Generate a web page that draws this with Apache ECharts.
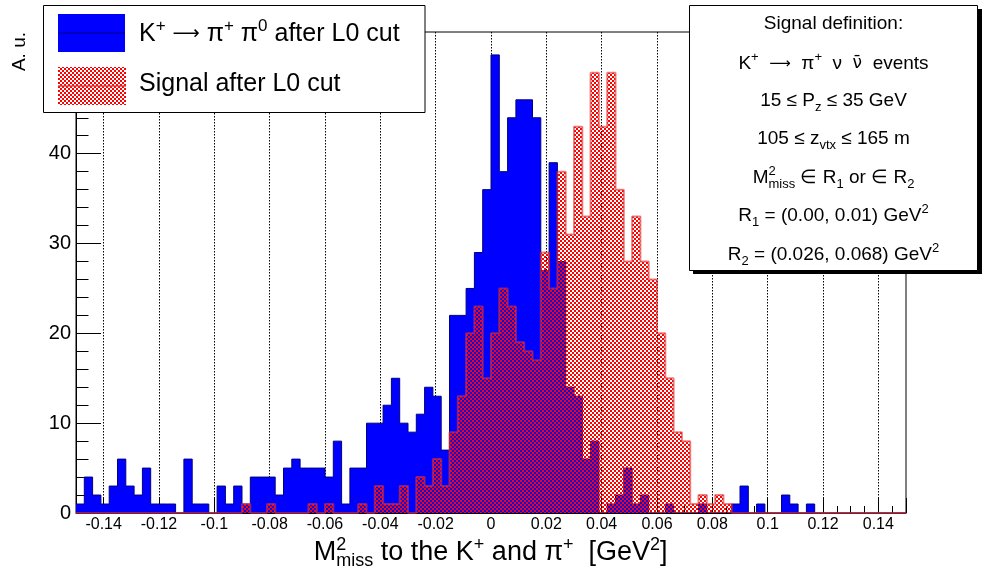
<!DOCTYPE html>
<html>
<head>
<meta charset="utf-8">
<script src="https://cdn.jsdelivr.net/npm/echarts@6/dist/echarts.min.js"></script>
<style>
  html, body { margin: 0; padding: 0; background: #ffffff; }
  #chart { width: 983px; height: 576px; }
</style>
</head>
<body>
<div id="chart"></div>
<script>
// Histogram binning: 100 bins of 0.003 GeV^2 covering [-0.15, 0.15]
const binLow = -0.15;
const binWidth = 0.003;

// Axis tick labels
const xTickLabels = ['-0.14', '-0.12', '-0.1', '-0.08', '-0.06', '-0.04', '-0.02', '0',
                     '0.02', '0.04', '0.06', '0.08', '0.1', '0.12', '0.14'];
const yTickLabels = ['0', '10', '20', '30', '40'];

// K+ -> pi+ pi0 background after the L0 cut (entries per bin)
const kpipi0Counts = [
  1, 4, 2, 1, 3, 6, 3, 2, 5, 1,
  1, 1, 0, 6, 1, 1, 0, 3, 1, 3,
  1, 4, 4, 4, 2, 5, 6, 5, 5, 5,
  4, 8, 1, 5, 5, 10, 10, 12, 15, 10,
  9, 11, 14, 13, 7, 22, 22, 25, 29, 36,
  51, 38, 44, 46, 46, 44, 27, 39, 28, 14,
  13, 6, 8, 0, 1, 2, 5, 1, 2, 0,
  0, 1, 0, 0, 0, 1, 0, 0, 0, 1,
  3, 0, 1, 0, 0, 2, 1, 0, 1, 0,
  0, 0, 0, 0, 0, 0, 0, 0, 0, 0
];

// K+ -> pi+ nu nubar signal after the L0 cut (entries per bin)
const signalCounts = [
  0, 0, 0, 0, 0, 0, 0, 0, 0, 0,
  0, 0, 0, 0, 0, 0, 0, 0, 0, 0,
  1, 0, 0, 1, 0, 0, 0, 0, 1, 0,
  1, 0, 0, 0, 1, 0, 3, 1, 1, 3,
  0, 4, 3, 6, 3, 9, 13, 20, 23, 15,
  20, 25, 23, 19, 18, 17, 29, 25, 38, 31,
  43, 33, 49, 43, 49, 36, 28, 33, 28, 26,
  20, 15, 9, 8, 1, 2, 1, 2, 1, 0,
  0, 0, 0, 0, 0, 0, 0, 0, 0, 0,
  0, 0, 0, 0, 0, 0, 0, 0, 0, 0
];

const FONT = 'Liberation Sans, Arial, Helvetica, sans-serif';

// Red checker used as the hatched fill of the signal histogram
function checkerPattern() {
  const c = document.createElement('canvas');
  c.width = 4; c.height = 4;
  const g = c.getContext('2d');
  g.clearRect(0, 0, 4, 4);
  g.fillStyle = '#ff0000';
  g.fillRect(0, 0, 2, 2);
  g.fillRect(2, 2, 2, 2);
  return { image: c, repeat: 'repeat' };
}
const redChecker = checkerPattern();

// Points at each bin's low edge plus the upper edge, drawn as a step outline
function histPoints(counts) {
  const pts = counts.map((v, i) => [binLow + i * binWidth, v]);
  pts.push([binLow + counts.length * binWidth, counts[counts.length - 1]]);
  return pts;
}

function matchLabel(list, v) {
  for (const s of list) {
    if (Math.abs(parseFloat(s) - v) < 1e-9) return s;
  }
  return '';
}

// Rich text styles with raised / lowered scripts (all tokens laid out left to right)
function richSet(size, lh, arrowSize) {
  const small = Math.round(size * 0.66);
  const base = { fontFamily: FONT, color: '#000', align: 'left' };
  return {
    n:   Object.assign({}, base, { fontSize: size, lineHeight: lh, verticalAlign: 'middle' }),
    ar:  Object.assign({}, base, { fontFamily: 'DejaVu Sans', fontSize: arrowSize, lineHeight: lh, verticalAlign: 'middle' }),
    nb:  Object.assign({}, base, { fontFamily: 'DejaVu Sans', fontSize: Math.round(size * 0.9), lineHeight: lh, verticalAlign: 'middle' }),
    sup: Object.assign({}, base, { fontSize: small, lineHeight: Math.round(size * 0.38), verticalAlign: 'top' }),
    sub: Object.assign({}, base, { fontSize: small, lineHeight: Math.round(size * 0.3), verticalAlign: 'bottom' }),
    // superscript that takes no width, so the following subscript sits under it
    supz:Object.assign({}, base, { fontSize: small, lineHeight: Math.round(size * 0.38), verticalAlign: 'top', width: 0.001 })
  };
}

const chart = echarts.init(document.getElementById('chart'), null, { renderer: 'canvas' });

const statsLines = [
  '{n|Signal definition:}',
  '{n|K}{sup|+}{n|  }{ar|⟶}{n|  π}{sup|+}{n|  ν  }{nb|ν\u0304}{n|  events}',
  '{n|15 ≤ P}{sub|z}{n| ≤ 35 GeV}',
  '{n|105 ≤ z}{sub|vtx}{n| ≤ 165 m}',
  '{n|M}{supz|2}{sub|miss}{n| ∈ R}{sub|1}{n| or ∈ R}{sub|2}',
  '{n|R}{sub|1}{n| = (0.00, 0.01) GeV}{sup|2}',
  '{n|R}{sub|2}{n| = (0.026, 0.068) GeV}{sup|2}'
];
const statsY = [24, 64, 101, 139, 178, 216, 255];

const graphics = [
  // y axis title
  {
    type: 'text', x: 19.5, y: 32, rotation: Math.PI / 2, z: 10,
    style: { text: 'A. u.', font: '19px ' + FONT, fill: '#000', align: 'right', verticalAlign: 'middle' }
  },
  // x axis title
  {
    type: 'text', x: 490.7, y: 553, z: 10,
    style: {
      text: '{n|M}{supz|2}{sub|miss}{n| to the K}{sup|+}{n| and π}{sup|+}{n|  [GeV}{sup|2}{n|]}',
      rich: richSet(27, 34, 20), align: 'center', verticalAlign: 'middle'
    }
  },
  // legend frame
  {
    type: 'rect', z: 20, shape: { x: 43.5, y: 5.5, width: 381.5, height: 107 },
    style: { fill: '#fff', stroke: '#000', lineWidth: 1 }
  },
  { type: 'rect', z: 21, shape: { x: 58, y: 14, width: 67, height: 38 }, style: { fill: '#0000ff' } },
  { type: 'line', z: 22, shape: { x1: 58, y1: 33, x2: 125, y2: 33 }, style: { stroke: '#000080', lineWidth: 1 } },
  { type: 'rect', z: 21, shape: { x: 58, y: 67, width: 68, height: 38 }, style: { fill: redChecker } },
  { type: 'line', z: 22, shape: { x1: 58, y1: 86, x2: 126, y2: 86 }, style: { stroke: 'rgba(220,50,50,0.6)', lineWidth: 2 } },
  {
    type: 'text', x: 139, y: 34, z: 22,
    style: { text: '{n|K}{sup|+}{n| }{ar|⟶}{n| π}{sup|+}{n| π}{sup|0}{n| after L0 cut}', rich: richSet(25, 32, 19), align: 'left', verticalAlign: 'middle' }
  },
  {
    type: 'text', x: 139, y: 84, z: 22,
    style: { text: '{n|Signal after L0 cut}', rich: richSet(25, 32, 19), align: 'left', verticalAlign: 'middle' }
  },
  // signal definition box with drop shadow
  { type: 'rect', z: 20, shape: { x: 693, y: 9, width: 289, height: 265 }, style: { fill: '#000' } },
  {
    type: 'rect', z: 21, shape: { x: 689.5, y: 5.5, width: 288, height: 265 },
    style: { fill: '#fff', stroke: '#000', lineWidth: 1 }
  }
];
statsLines.forEach((t, i) => {
  graphics.push({
    type: 'text', x: 833.5, y: statsY[i], z: 22,
    style: { text: t, rich: richSet(19, 26, 15), align: 'center', verticalAlign: 'middle' }
  });
});

chart.setOption({
  animation: false,
  backgroundColor: '#ffffff',
  grid: {
    left: 76, right: 77, top: 32, bottom: 63,
    show: true, borderColor: '#000', borderWidth: 1, backgroundColor: 'transparent'
  },
  xAxis: {
    type: 'value', min: -0.15, max: 0.15, splitNumber: 15,
    axisLine: { onZero: false, lineStyle: { color: '#000', width: 1 } },
    axisTick: { inside: true, length: 15, lineStyle: { color: '#000', width: 1 } },
    minorTick: { show: true, splitNumber: 4, length: 7, lineStyle: { color: '#000', width: 1 } },
    splitLine: { show: true, showMinLine: false, showMaxLine: false, lineStyle: { color: '#000', width: 1, type: [1.5, 1.5] } },
    axisLabel: {
      showMinLabel: false, showMaxLabel: false, margin: 4,
      fontSize: 16, fontFamily: FONT, color: '#000',
      formatter: v => matchLabel(xTickLabels, v)
    }
  },
  yAxis: {
    type: 'value', min: 0, max: 53.55, interval: 10,
    axisLine: { show: true, onZero: false, lineStyle: { color: '#000', width: 1 } },
    axisTick: { inside: true, length: 25, lineStyle: { color: '#000', width: 1 } },
    minorTick: { show: true, splitNumber: 5, length: 12.5, lineStyle: { color: '#000', width: 1 } },
    splitLine: { show: false },
    axisLabel: {
      showMaxLabel: false, margin: 5,
      fontSize: 20, fontFamily: FONT, color: '#000',
      formatter: v => matchLabel(yTickLabels, v)
    }
  },
  series: [
    {
      type: 'line', name: 'K+ → π+ π0 after L0 cut',
      data: histPoints(kpipi0Counts), step: 'end',
      symbol: 'none', silent: true, z: 2,
      lineStyle: { color: '#000080', width: 1 },
      itemStyle: { color: '#0000ff' },
      areaStyle: { color: '#0000ff', opacity: 1 }
    },
    {
      type: 'line', name: 'Signal after L0 cut',
      data: histPoints(signalCounts), step: 'end',
      symbol: 'none', silent: true, z: 3,
      lineStyle: { color: 'rgba(220,50,50,0.6)', width: 2 },
      itemStyle: { color: '#ff0000' },
      areaStyle: { color: redChecker, opacity: 1 }
    }
  ],
  graphic: graphics
});
</script>
</body>
</html>
